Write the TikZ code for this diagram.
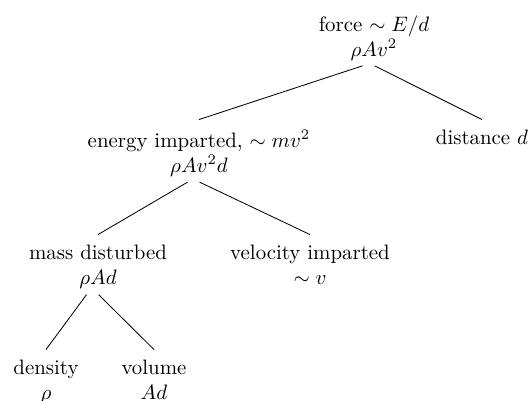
\documentclass[tikz,border=0pt]{standalone}
\begin{document}
\begin{tikzpicture}[x=0.479pt,y=-0.479pt,
  entry/.style={anchor=north,align=center,inner sep=0pt}]
\useasboundingbox (0,0) rectangle (529,400);
  \node[entry] (force) at (374,15) {force $\sim E/d$\\ $\rho A v^2$};
  \node[entry] (energy) at (199,130) {energy imparted, $\sim mv^2$\\ $\rho A v^2 d$};
  \node[entry] (distance) at (482,130) {distance $d$};
  \node[entry] (mass) at (98,245) {mass disturbed\\ $\rho A d$};
  \node[entry] (velocity) at (310,245) {velocity imparted\\ $\sim v$};
  \node[entry] (density) at (46,360) {density\\ $\rho$};
  \node[entry] (volume) at (154,360) {volume\\ $Ad$};
  % branches
  \draw ([xshift=-5.5pt,yshift=-2.5pt]force.south) -- ([yshift=5pt]energy.north);
  \draw ([xshift=0.3pt,yshift=-2.5pt]force.south) -- ([yshift=5pt]distance.north);
  \draw ([xshift=-5.5pt,yshift=-2.5pt]energy.south) -- ([yshift=5pt]mass.north);
  \draw ([xshift=0.3pt,yshift=-2.5pt]energy.south) -- ([yshift=5pt]velocity.north);
  \draw ([xshift=-5.5pt,yshift=-2.5pt]mass.south) -- ([yshift=5pt]density.north);
  \draw ([xshift=0.3pt,yshift=-2.5pt]mass.south) -- ([yshift=5pt]volume.north);
\end{tikzpicture}
\end{document}
